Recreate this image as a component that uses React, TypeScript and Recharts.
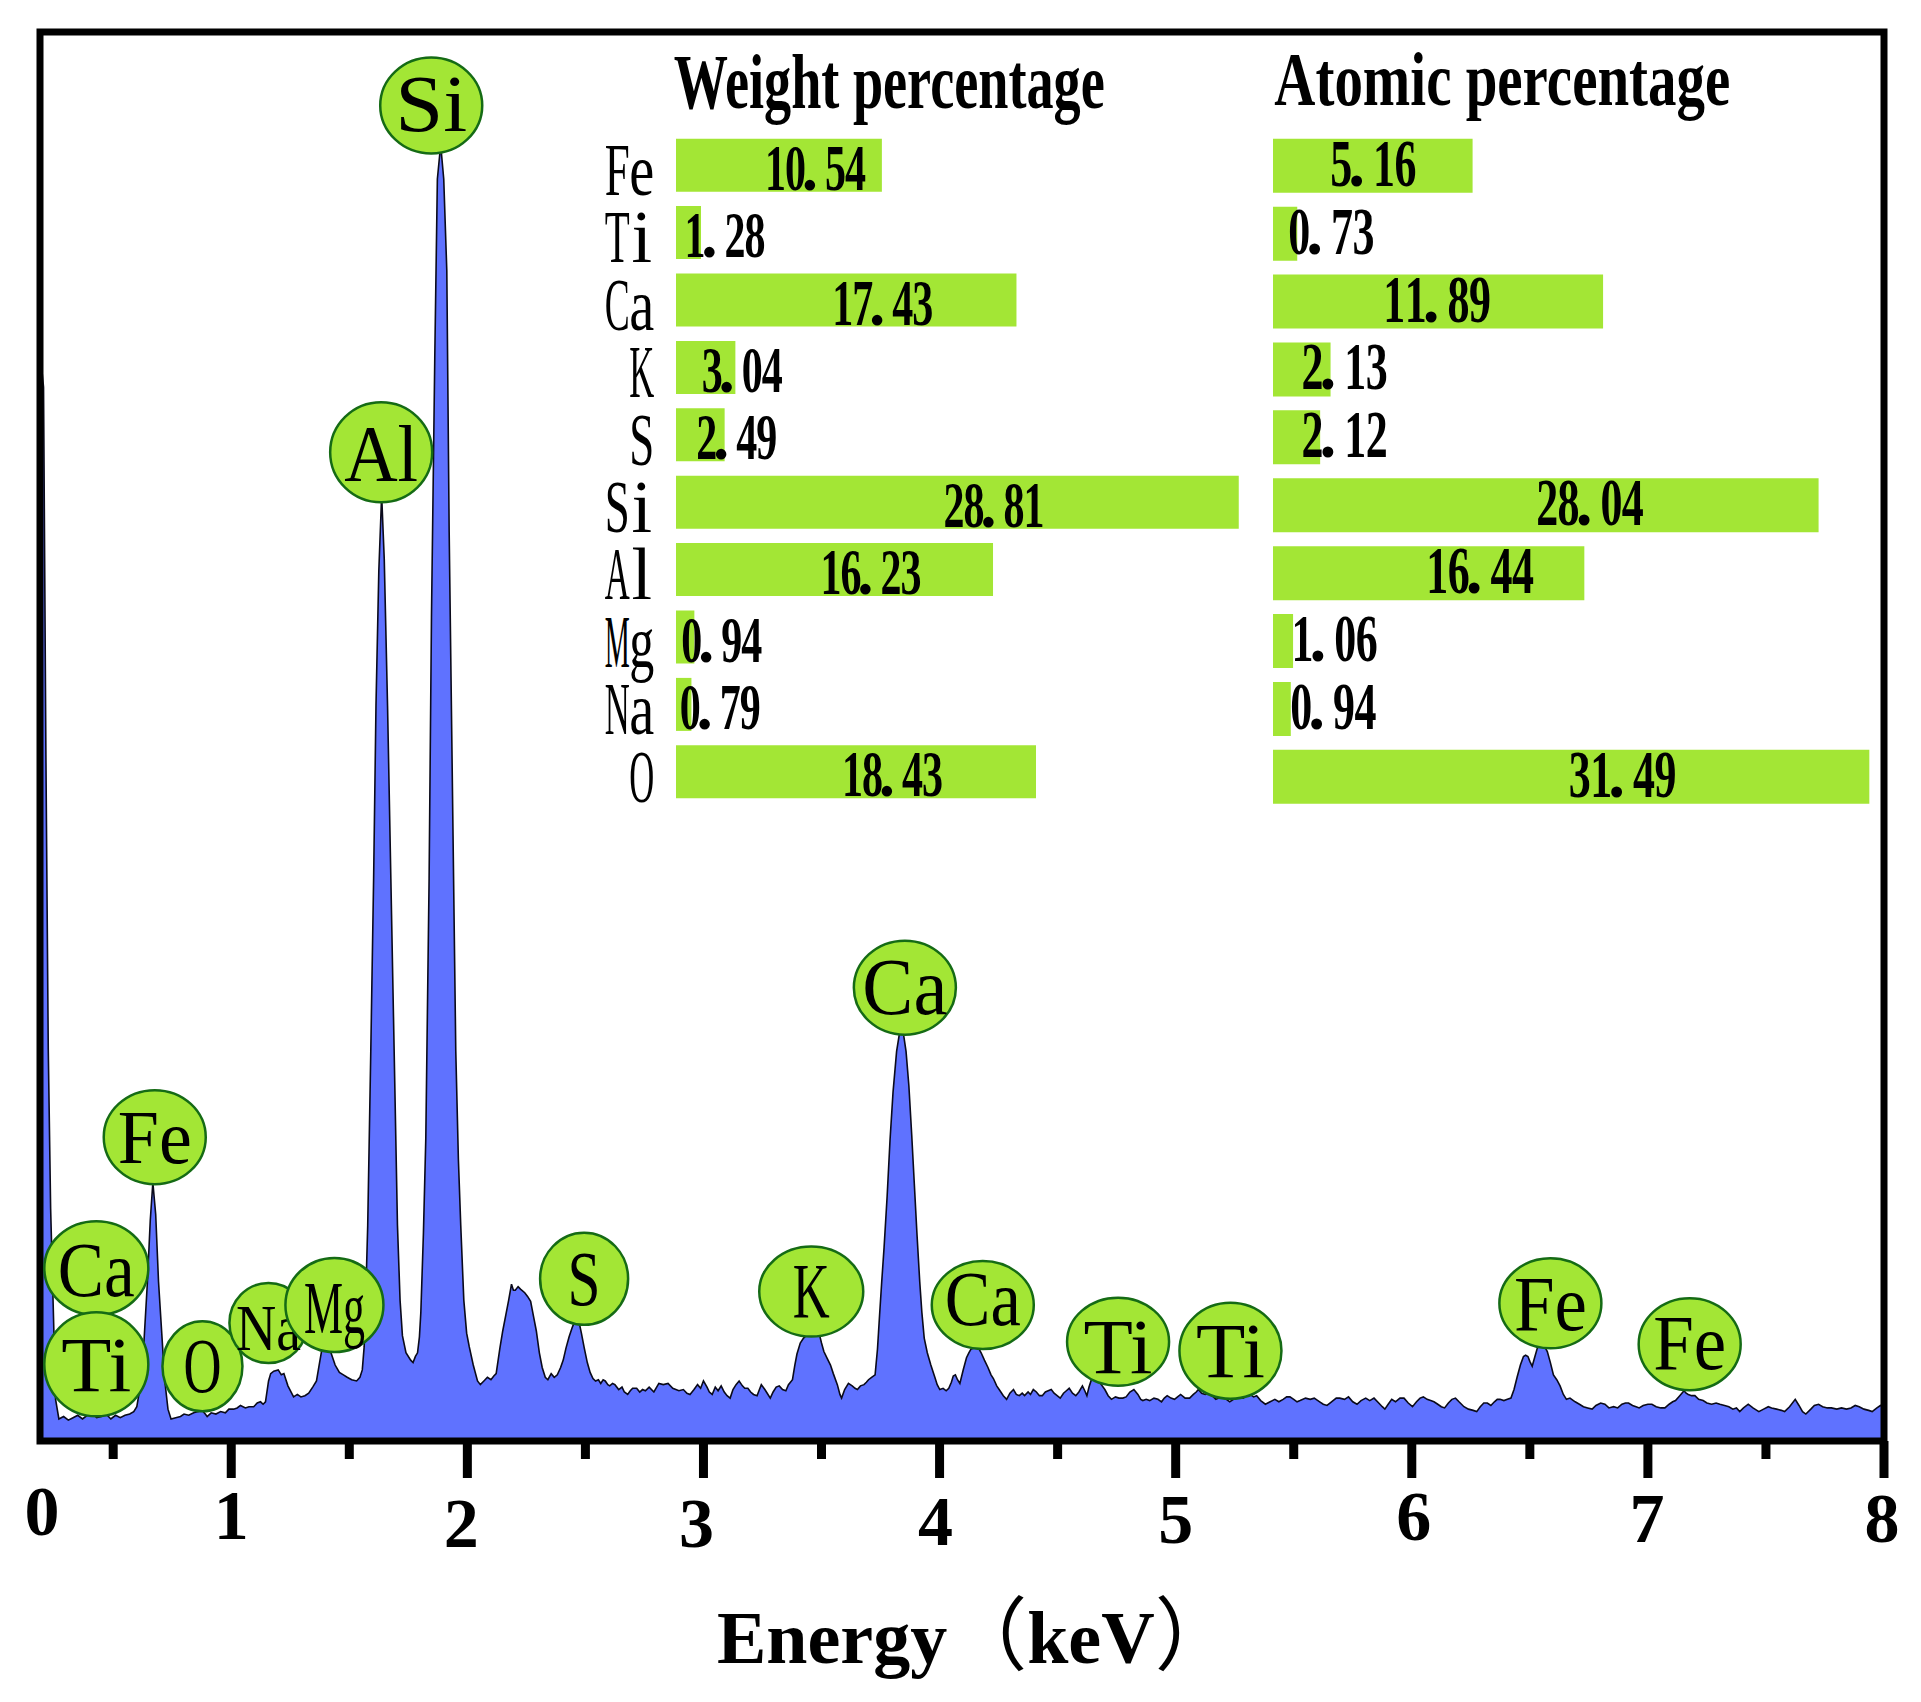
import {
  Area,
  AreaChart,
  Bar,
  BarChart,
  Customized,
  Label,
  LabelList,
  ReferenceArea,
  ReferenceDot,
  XAxis,
  YAxis,
} from 'recharts'

const SERIF = "'Liberation Serif', 'Times New Roman', serif"
const CJK = "'Noto Sans CJK SC', 'Noto Sans', sans-serif"
const AREA_BLUE = '#5f72ff'
const LIME = '#a3e635'
const DARK_GREEN = '#156b15'

const X_MIN = 0.19
const X_MAX = 8
const Y_MAX = 1150

// spectrum as [keV, counts]
const lowEnergy: [number, number][] = [
  [0.19, 890], [0.205, 860], [0.215, 560], [0.225, 320], [0.235, 190], [0.249, 88], [0.256, 34], [0.27, 18],
  [0.29, 20], [0.31, 17], [0.33, 19], [0.35, 21], [0.37, 18], [0.39, 21], [0.41, 23], [0.43, 19], [0.45, 20],
  [0.47, 22], [0.49, 18], [0.51, 21], [0.53, 19], [0.55, 21], [0.57, 22], [0.587, 24],
  [0.6, 28], [0.615, 45], [0.63, 80], [0.645, 130], [0.657, 180], [0.668, 211], [0.68, 185], [0.692, 130],
  [0.705, 90], [0.718, 50], [0.732, 26], [0.745, 18], [0.765, 19], [0.785, 20], [0.8, 22], [0.82, 21],
  [0.841, 23], [0.86, 24], [0.877, 25], [0.89, 22], [0.898, 20], [0.915, 23], [0.935, 22], [0.955, 24],
  [0.975, 23], [0.99, 26], [1.01, 26], [1.025, 27], [1.039, 29], [1.06, 27], [1.075, 28], [1.095, 28],
  [1.11, 31], [1.124, 32], [1.135, 30], [1.145, 32], [1.158, 49], [1.167, 55], [1.18, 57], [1.199, 58],
  [1.212, 54], [1.223, 55], [1.24, 45], [1.264, 36], [1.28, 38], [1.295, 36], [1.312, 37], [1.328, 39],
  [1.345, 44], [1.361, 49], [1.375, 65], [1.386, 77], [1.402, 82], [1.412, 78], [1.426, 70], [1.44, 62],
  [1.458, 56], [1.475, 54], [1.491, 52], [1.51, 50], [1.531, 49], [1.545, 52], [1.555, 58], [1.563, 77],
]

const alSiPeaks: [number, number][] = [
  [1.57, 120], [1.578, 176], [1.591, 318], [1.603, 459], [1.613, 600], [1.625, 710], [1.637, 772],
  [1.648, 720], [1.662, 600], [1.676, 459], [1.69, 318], [1.704, 176], [1.715, 115], [1.725, 86],
  [1.74, 72], [1.76, 66], [1.77, 64], [1.78, 69], [1.789, 72], [1.797, 85], [1.803, 105], [1.814, 170],
  [1.824, 247], [1.838, 459], [1.848, 672], [1.862, 884], [1.873, 1030], [1.887, 1058], [1.9, 1030],
  [1.913, 955], [1.923, 742], [1.937, 530], [1.951, 318], [1.962, 230], [1.972, 176], [1.985, 115],
  [1.997, 88], [2.008, 77], [2.025, 62], [2.043, 49], [2.055, 46], [2.07, 49], [2.085, 52], [2.1, 50],
  [2.112, 53], [2.122, 55],
]

const midEnergy: [number, number][] = [
  [2.138, 76], [2.15, 90], [2.163, 103], [2.175, 115], [2.187, 128], [2.195, 123], [2.203, 123],
  [2.215, 126], [2.225, 124], [2.243, 121], [2.255, 118], [2.268, 114], [2.28, 102], [2.292, 90],
  [2.305, 72], [2.317, 60], [2.33, 52], [2.341, 50], [2.355, 55], [2.368, 52], [2.381, 54],
  [2.395, 60], [2.406, 66], [2.418, 76], [2.431, 85], [2.443, 92], [2.455, 98], [2.465, 102],
  [2.471, 99], [2.483, 88], [2.495, 76], [2.508, 64], [2.52, 56], [2.532, 51], [2.543, 49], [2.555, 50],
  [2.565, 47], [2.575, 50], [2.584, 49], [2.595, 46], [2.603, 45], [2.615, 47], [2.625, 46], [2.641, 42],
  [2.655, 44], [2.665, 40], [2.679, 38], [2.69, 41], [2.7, 43], [2.717, 43], [2.73, 40], [2.742, 42],
  [2.754, 41], [2.77, 44], [2.79, 40], [2.811, 47], [2.83, 46], [2.85, 47], [2.87, 43], [2.896, 41],
  [2.915, 42], [2.93, 39], [2.943, 38], [2.96, 42], [2.975, 46], [2.988, 43], [3.0, 49], [3.015, 44],
  [3.025, 40], [3.037, 38], [3.05, 44], [3.062, 41], [3.075, 45], [3.088, 40], [3.1, 37], [3.113, 35],
  [3.125, 42], [3.138, 46], [3.151, 49], [3.165, 45], [3.175, 43], [3.188, 43], [3.2, 40], [3.212, 38],
  [3.227, 37], [3.235, 41], [3.245, 46], [3.26, 42], [3.27, 39], [3.283, 35], [3.295, 40], [3.308, 44],
  [3.321, 45], [3.335, 42], [3.349, 41],
  [3.36, 46], [3.377, 50], [3.387, 62], [3.396, 71], [3.41, 80], [3.424, 84], [3.44, 87], [3.453, 87],
  [3.472, 88], [3.491, 87], [3.5, 80], [3.51, 73], [3.525, 67], [3.538, 62], [3.55, 55], [3.567, 46],
  [3.578, 38], [3.585, 35], [3.598, 42], [3.614, 47], [3.63, 45], [3.642, 43], [3.652, 42], [3.665, 45],
  [3.68, 46], [3.69, 48], [3.699, 50], [3.712, 52], [3.727, 54],
  [3.737, 75], [3.746, 103], [3.755, 130], [3.765, 158], [3.778, 200], [3.79, 245], [3.803, 285],
  [3.818, 318], [3.832, 335], [3.845, 335], [3.858, 318], [3.87, 290], [3.882, 250], [3.893, 210],
  [3.904, 170], [3.916, 130], [3.925, 105], [3.935, 84], [3.948, 72], [3.963, 62], [3.98, 52], [3.99, 46],
  [4.001, 42], [4.015, 43], [4.028, 41], [4.039, 43], [4.05, 48], [4.058, 53], [4.067, 54], [4.076, 50],
  [4.086, 47], [4.1, 58], [4.114, 68], [4.124, 72], [4.133, 75], [4.148, 76], [4.162, 77], [4.176, 72],
  [4.19, 66], [4.205, 60], [4.218, 54], [4.228, 51], [4.242, 45], [4.256, 41], [4.27, 37], [4.284, 34],
  [4.298, 39], [4.313, 42], [4.325, 38], [4.338, 37], [4.35, 39], [4.36, 37], [4.375, 40], [4.385, 38],
  [4.397, 42], [4.41, 40], [4.423, 37], [4.435, 37], [4.448, 40], [4.46, 41], [4.473, 42], [4.485, 39],
  [4.498, 37], [4.511, 35], [4.525, 39], [4.537, 41], [4.549, 43], [4.563, 39], [4.577, 37], [4.59, 40],
  [4.605, 45], [4.615, 41], [4.624, 37],
]

const highEnergy: [number, number][] = [
  [4.633, 44], [4.643, 50], [4.657, 51], [4.671, 50], [4.685, 46], [4.7, 42], [4.714, 37], [4.728, 34],
  [4.745, 36], [4.76, 35], [4.776, 35], [4.79, 36], [4.806, 40], [4.823, 42], [4.84, 38], [4.852, 34],
  [4.861, 33], [4.875, 34], [4.89, 33], [4.908, 35], [4.925, 34], [4.94, 32], [4.952, 35], [4.964, 37],
  [4.98, 35], [4.995, 34], [5.008, 36], [5.021, 38], [5.04, 35], [5.059, 35], [5.075, 38], [5.087, 40],
  [5.096, 42], [5.11, 39], [5.125, 38], [5.144, 39], [5.16, 36], [5.17, 34], [5.182, 35], [5.2, 37],
  [5.215, 34], [5.229, 32], [5.245, 34], [5.26, 36], [5.286, 35], [5.3, 37], [5.315, 38], [5.33, 36],
  [5.343, 37], [5.36, 33], [5.38, 30], [5.4, 32], [5.42, 34], [5.437, 32], [5.455, 34], [5.47, 36],
  [5.484, 36], [5.5, 34], [5.514, 32], [5.527, 33], [5.55, 35], [5.57, 34], [5.587, 35], [5.61, 32],
  [5.625, 30], [5.641, 29], [5.66, 32], [5.68, 35], [5.695, 35], [5.715, 34], [5.732, 36], [5.75, 32],
  [5.768, 30], [5.785, 33], [5.805, 35], [5.822, 33], [5.84, 35], [5.86, 31], [5.875, 28], [5.886, 26],
  [5.9, 30], [5.915, 34], [5.931, 32], [5.95, 35], [5.967, 35], [5.985, 31], [6.003, 28], [6.02, 32],
  [6.035, 35], [6.049, 36], [6.065, 34], [6.08, 33], [6.094, 32], [6.11, 30], [6.125, 28], [6.139, 27],
  [6.155, 31], [6.17, 34], [6.185, 35], [6.2, 32], [6.221, 28], [6.24, 26], [6.26, 25], [6.275, 24],
  [6.29, 28], [6.305, 31], [6.32, 31], [6.335, 29], [6.35, 32], [6.362, 34], [6.374, 34], [6.39, 33],
  [6.405, 34], [6.42, 35],
  [6.433, 42], [6.446, 52], [6.46, 62], [6.473, 69], [6.482, 70], [6.492, 69], [6.5, 65], [6.51, 61],
  [6.52, 68], [6.532, 76], [6.546, 79], [6.56, 78], [6.574, 73], [6.587, 64], [6.6, 54], [6.614, 50],
  [6.628, 45], [6.642, 38], [6.655, 34], [6.67, 35], [6.692, 32], [6.71, 30], [6.727, 28], [6.745, 27],
  [6.764, 26], [6.78, 29], [6.8, 31], [6.818, 30], [6.835, 27], [6.855, 28], [6.872, 27], [6.89, 30],
  [6.905, 31], [6.918, 31], [6.935, 29], [6.95, 28], [6.963, 27], [6.98, 29], [7.0, 30], [7.017, 30],
  [7.035, 28], [7.055, 27], [7.072, 27], [7.09, 30], [7.105, 32], [7.117, 33],
  [7.135, 37], [7.153, 41], [7.162, 39], [7.171, 38], [7.185, 37], [7.199, 37], [7.215, 34], [7.234, 33],
  [7.25, 31], [7.27, 30], [7.289, 31], [7.305, 30], [7.325, 29], [7.343, 28], [7.36, 26], [7.375, 27],
  [7.389, 24], [7.405, 27], [7.425, 30], [7.445, 27], [7.47, 24], [7.49, 26], [7.51, 28], [7.524, 27],
  [7.545, 26], [7.565, 25], [7.579, 24], [7.6, 28], [7.624, 34], [7.64, 29], [7.655, 24], [7.669, 22],
  [7.69, 26], [7.705, 29], [7.723, 30], [7.74, 28], [7.76, 27], [7.777, 27], [7.8, 26], [7.82, 27],
  [7.841, 26], [7.86, 27], [7.878, 29], [7.895, 28], [7.915, 26], [7.935, 25], [7.95, 24], [7.97, 27],
  [7.985, 29], [8.0, 28],
]

const spectrum = [...lowEnergy, ...alSiPeaks, ...midEnergy, ...highEnergy].map(([e, v]) => ({ e, v }))

const energyTicks = [X_MIN, 0.5, 1, 1.5, 2, 2.5, 3, 3.5, 4, 4.5, 5, 5.5, 6, 6.5, 7, 7.5, 8]
// [dx, baseline below axis] for the staggered tick numbers
const tickNudge: Record<number, [number, number]> = {
  0: [2, 94], 1: [0, 98], 2: [-6, 106], 3: [-7, 106], 4: [-4, 104],
  5: [0, 102], 6: [2, 99], 7: [-1, 101], 8: [-2, 101],
}

// element markers: name, energy, height of the bubble centre
const peakNames = ['Si', 'Al', 'Fe', 'Ca', 'Ti', 'O', 'Na', 'Mg', 'S', 'K', 'Ca', 'Ca', 'Ti', 'Ti', 'Fe', 'Fe']
const peakEnergy = [1.847, 1.635, 0.676, 0.4285, 0.4285, 0.878, 1.1575, 1.437, 2.4945, 3.4565, 3.853, 4.183, 4.756, 5.232, 6.587, 7.177]
const peakHeight = [1090, 807, 248, 141, 62.6, 61, 96.3, 111, 132.4, 122, 370, 111, 81, 73.6, 112.4, 79]
// [rx, ry, text width, text drop, font size]
const bubbleStyle: [number, number, number, number, number][] = [
  [51, 48, 72, 25, 80], [51, 50, 74, 29, 80], [51, 47, 74, 26, 77], [52, 47, 77, 28, 78],
  [52, 52, 70, 27, 78], [40, 45, 38, 26, 78], [39, 40, 65, 27, 65], [49, 47, 61, 28, 75],
  [44, 46, 33, 26, 78], [52, 45, 37, 25, 78], [51, 47, 85, 26, 80], [51, 44, 76, 20, 78],
  [51, 44, 69, 31, 78], [51, 48, 69, 26, 78], [51, 45, 73, 27, 78], [51, 46, 73, 25, 78],
]

// composition tables
const elements = ['Fe', 'Ti', 'Ca', 'K', 'S', 'Si', 'Al', 'Mg', 'Na', 'O']
const weightPct = [10.54, 1.28, 17.43, 3.04, 2.49, 28.81, 16.23, 0.94, 0.79, 18.43]
const atomicPct = [5.16, 0.73, 11.89, 2.13, 2.12, 28.04, 16.44, 1.06, 0.94, 31.49]
// bar lengths as drawn in the atomic panel
const atomicBarDrawn = [10.54, 1.28, 17.43, 3.04, 2.49, 28.81, 16.44, 1.06, 0.94, 31.49]

const rows = elements.map((el, i) => ({
  el,
  w: weightPct[i],
  a: atomicPct[i],
  aBar: atomicBarDrawn[i],
}))

const ATOMIC_WIDTH = 606
const ATOMIC_MAX = 32
const NARROW = 'il'

function MonoText({
  cx,
  y,
  text,
  cell,
  size,
  ink,
  weight = 'bold',
}: {
  cx: number
  y: number
  text: string
  cell: number
  size: number
  ink: number
  weight?: string
}) {
  const left = cx - (text.length * cell) / 2
  return (
    <g fontFamily={SERIF} fontSize={size} fontWeight={weight} fill="#000">
      {text.split('').map((ch, i) => {
        if (ch === '.') {
          return (
            <text key={i} x={left + i * cell + cell * 0.22} y={y} textAnchor="middle">
              .
            </text>
          )
        }
        if (NARROW.includes(ch)) {
          return (
            <text key={i} x={left + (i + 0.5) * cell} y={y} textAnchor="middle">
              {ch}
            </text>
          )
        }
        return (
          <text key={i} x={left + (i + 0.5) * cell} y={y} textAnchor="middle" textLength={ink} lengthAdjust="spacingAndGlyphs">
            {ch}
          </text>
        )
      })}
    </g>
  )
}

function EnergyTick(props: any) {
  const { x, y, payload } = props
  const v = payload.value as number
  const isOrigin = v === X_MIN
  const major = Number.isInteger(v)
  const [dx, base] = tickNudge[isOrigin ? 0 : v] ?? [0, 100]
  return (
    <g>
      {!isOrigin && <line x1={x} x2={x} y1={y} y2={y + (major ? 37 : 18)} stroke="#000" strokeWidth={9} />}
      {(major || isOrigin) && (
        <text x={x + dx} y={y + base} textAnchor="middle" fontFamily={SERIF} fontWeight="bold" fontSize={70} fill="#000">
          {isOrigin ? 0 : v}
        </text>
      )}
    </g>
  )
}

function renderAxisTitle(props: any) {
  const { viewBox } = props
  const x0 = viewBox.x + viewBox.width / 2 - 245
  return (
    <text x={x0} y={viewBox.y + 222} fontFamily={SERIF} fontWeight="bold" fontSize={74} fill="#000">
      <tspan>Energy</tspan>
      <tspan fontFamily={CJK} fontWeight="normal" fontSize={80}>（</tspan>
      <tspan>keV</tspan>
      <tspan fontFamily={CJK} fontWeight="normal" fontSize={80}>）</tspan>
    </text>
  )
}

function Bubble({ cx, cy, idx }: { cx: number; cy: number; idx: number }) {
  const [rx, ry, tw, dy, size] = bubbleStyle[idx]
  return (
    <g>
      <ellipse cx={cx} cy={cy} rx={rx} ry={ry} fill={LIME} stroke={DARK_GREEN} strokeWidth={2.5} />
      <text x={cx} y={cy + dy} textAnchor="middle" fontFamily={SERIF} fontSize={size} textLength={tw} lengthAdjust="spacingAndGlyphs" fill="#000">
        {peakNames[idx]}
      </text>
    </g>
  )
}

function ElementTick(props: any) {
  const { x, y, payload } = props
  const text = String(payload.value)
  const cell = 24.5
  const right = x - 22
  return <MonoText cx={right - (text.length * cell) / 2} y={y + 29.5} text={text} cell={cell} size={74} ink={25} weight="normal" />
}

function WeightValue(props: any) {
  const { x, y, width, height, value } = props
  return <MonoText cx={x + width / 2 + 36.5} y={y + height / 2 + 24.6} text={Number(value).toFixed(2)} cell={20} size={65} ink={21} />
}

function AtomicValue(props: any) {
  const { x, y, height, value } = props
  const pxPerUnit = ATOMIC_WIDTH / ATOMIC_MAX
  return <MonoText cx={x + 51.5 + (Number(value) * pxPerUnit) / 2} y={y + height / 2 + 20} text={Number(value).toFixed(2)} cell={21.4} size={67} ink={22} />
}

function WeightTitle() {
  return (
    <text x={113.75} y={108.3} fontFamily={SERIF} fontWeight="bold" fontSize={78} textLength={431} lengthAdjust="spacingAndGlyphs" fill="#000">
      Weight percentage
    </text>
  )
}

function AtomicTitle() {
  return (
    <text x={1.3} y={105.3} fontFamily={SERIF} fontWeight="bold" fontSize={76} textLength={456} lengthAdjust="spacingAndGlyphs" fill="#000">
      Atomic percentage
    </text>
  )
}

export default function App() {
  return (
    <div style={{ position: 'absolute', left: 0, top: 0, width: 1921, height: 1702, background: '#fff' }}>
      <AreaChart width={1921} height={1702} data={spectrum} margin={{ top: 32, right: 37, bottom: 21, left: 40 }}>
        <XAxis
          dataKey="e"
          type="number"
          domain={[X_MIN, X_MAX]}
          ticks={energyTicks}
          interval={0}
          allowDataOverflow
          height={240}
          tickLine={false}
          tickSize={0}
          tickMargin={0}
          tick={(p: any) => <EnergyTick {...p} />}
          axisLine={{ stroke: '#000', strokeWidth: 6 }}
        >
          <Label content={renderAxisTitle} />
        </XAxis>
        <YAxis type="number" domain={[0, Y_MAX]} hide />
        <Area
          type="linear"
          dataKey="v"
          stroke="#0a0a1a"
          strokeWidth={1.6}
          fill={AREA_BLUE}
          fillOpacity={1}
          dot={false}
          activeDot={false}
          isAnimationActive={false}
        />
        <ReferenceArea
          x1={X_MIN}
          x2={X_MAX}
          y1={0}
          y2={Y_MAX}
          ifOverflow="visible"
          fill="none"
          fillOpacity={0}
          stroke="#000"
          strokeWidth={7}
        />
        {peakNames.map((name, i) => (
          <ReferenceDot
            key={name + i}
            x={peakEnergy[i]}
            y={peakHeight[i]}
            r={0}
            ifOverflow="visible"
            shape={(p: any) => <Bubble cx={p.cx} cy={p.cy} idx={i} />}
          />
        ))}
      </AreaChart>

      <div style={{ position: 'absolute', left: 560, top: 0 }}>
        <BarChart width={702} height={830} data={rows} layout="vertical" margin={{ top: 131.7, right: 0, bottom: 24.3, left: 0 }}>
          <XAxis type="number" domain={[0, 30]} hide />
          <YAxis
            type="category"
            dataKey="el"
            width={116}
            interval={0}
            axisLine={false}
            tickLine={false}
            tickSize={0}
            tickMargin={0}
            tick={(p: any) => <ElementTick {...p} />}
          />
          <Bar dataKey="w" fill={LIME} barSize={53} isAnimationActive={false}>
            <LabelList dataKey="w" content={WeightValue} />
          </Bar>
          <Customized component={WeightTitle} />
        </BarChart>
      </div>

      <div style={{ position: 'absolute', left: 1273, top: 0 }}>
        <BarChart width={ATOMIC_WIDTH} height={830} data={rows} layout="vertical" margin={{ top: 131.75, right: 0, bottom: 19.25, left: 0 }}>
          <XAxis type="number" domain={[0, ATOMIC_MAX]} hide />
          <YAxis type="category" dataKey="el" hide />
          <Bar dataKey="aBar" fill={LIME} barSize={54} isAnimationActive={false}>
            <LabelList dataKey="a" content={AtomicValue} />
          </Bar>
          <Customized component={AtomicTitle} />
        </BarChart>
      </div>
    </div>
  )
}
